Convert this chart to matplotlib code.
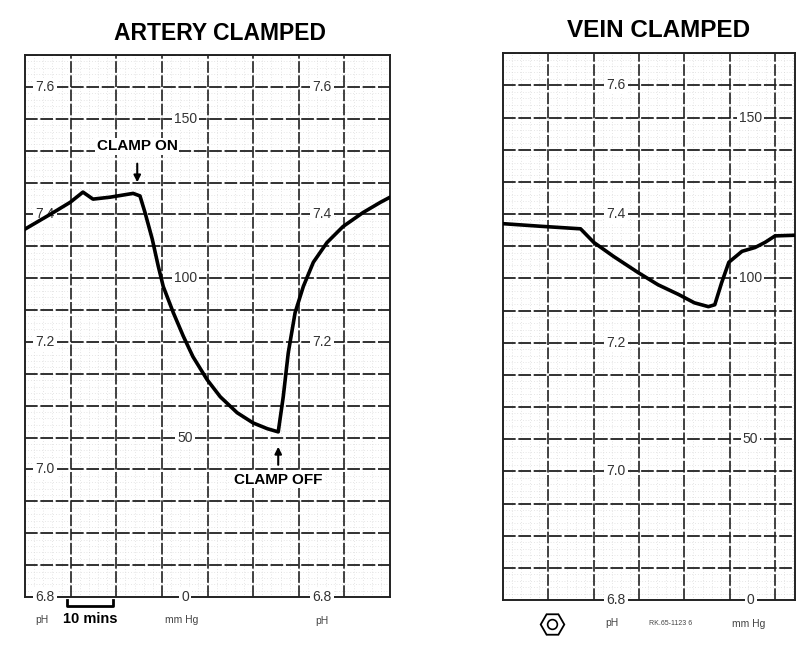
import matplotlib.pyplot as plt
import numpy as np

# artery clamped trace (minutes, pH)
time_artery = [0, 5.5, 9.9, 12.7, 14.9, 18.6, 23.7, 25.2, 26.3, 27.9, 29.2,
               30.3, 32.5, 34.7, 36.8, 39.9, 42.8, 46.5, 50.0, 53.1, 55.5,
               56.6, 57.7, 59.2, 61.0, 63.2, 66.2, 69.7, 74.1, 77.9, 80.0]
ph_artery = [7.377, 7.400, 7.419, 7.435, 7.424, 7.427, 7.433, 7.429, 7.403,
             7.361, 7.319, 7.287, 7.246, 7.209, 7.177, 7.141, 7.114, 7.089,
             7.073, 7.064, 7.059, 7.114, 7.183, 7.246, 7.287, 7.325, 7.356,
             7.381, 7.403, 7.419, 7.427]

# vein clamped trace
time_vein = [0, 8.2, 17.1, 20.0, 24.4, 29.8, 34.2, 38.7, 42.2, 45.3, 46.7,
             48.2, 49.8, 52.7, 55.6, 57.8, 60.0, 64.4]
ph_vein = [7.385, 7.381, 7.377, 7.356, 7.334, 7.309, 7.290, 7.275, 7.262,
           7.256, 7.259, 7.293, 7.325, 7.342, 7.348, 7.356, 7.366, 7.367]

ph_ticks = [7.6, 7.4, 7.2, 7.0, 6.8]
ph_labels = ['7.6', '7.4', '7.2', '7.0', '6.8']
mmhg_ticks = [150, 100, 50, 0]
mmhg_labels = ['150', '100', '50', '0']


def mmhg_to_ph(m):
    return 6.8 + m * 0.005


fig = plt.figure(figsize=(8.12, 6.51), dpi=100)
ax1 = fig.add_axes([0.0308, 0.0829, 0.4495, 0.8326])
ax2 = fig.add_axes([0.6195, 0.0783, 0.3596, 0.8400])

label_kw = dict(fontsize=10, family='Liberation Sans', color='#333',
                ha='center', va='center',
                bbox=dict(boxstyle='square,pad=0.15', fc='white', ec='none'))
small_kw = dict(fontsize=7.5, family='Liberation Sans', color='#444',
                ha='center', va='center')


def paper(ax, xmax):
    ax.set_xlim(0, xmax)
    ax.set_ylim(6.8, 7.65)
    for y in np.arange(6.85, 7.65, 0.05):
        ax.axhline(y, color='#222', lw=1.3, ls=(0, (7, 1.5)), zorder=1)
    for y in np.arange(6.81, 7.65, 0.01):
        ax.axhline(y, color='#cfcfcf', lw=0.5, ls=(0, (1, 3)), zorder=0)
    for x in np.arange(10, xmax, 10):
        ax.axvline(x, color='#222', lw=1.2, ls=(0, (7, 1.5)), zorder=1)
    for x in np.arange(2, xmax, 2):
        ax.axvline(x, color='#cfcfcf', lw=0.5, ls=(0, (1, 3)), zorder=0)
    ax.set_xticks([])
    ax.set_yticks([])
    for s in ax.spines.values():
        s.set_color('#222')
        s.set_linewidth(1.4)


paper(ax1, 80)
paper(ax2, 64.4)

# artery panel
ax1.plot(time_artery, ph_artery, color='black', lw=2.6, zorder=5,
         solid_joinstyle='round')
for v, t in zip(ph_ticks, ph_labels):
    ax1.text(4.4, v, t, zorder=3, **label_kw)
    if t != '7.0':  # right-hand 7.0 is hidden by the CLAMP OFF note
        ax1.text(65.1, v, t, zorder=3, **label_kw)
for m, t in zip(mmhg_ticks, mmhg_labels):
    ax1.text(35.1, mmhg_to_ph(m), t, zorder=3, **label_kw)

ax1.text(42.8, 7.683, 'ARTERY CLAMPED', fontsize=16.5, fontweight='bold',
         family='Liberation Sans', ha='center', va='center', clip_on=False)
ax1.text(24.6, 7.507, 'CLAMP ON', fontsize=11, fontweight='bold',
         family='Liberation Sans', ha='center', va='center', zorder=6,
         bbox=dict(boxstyle='square,pad=0.1', fc='white', ec='none'))
ax1.annotate('', xy=(24.6, 7.446), xytext=(24.6, 7.484),
             arrowprops=dict(arrowstyle='-|>', color='black', lw=1.5,
                             mutation_scale=10), zorder=6)
ax1.text(55.5, 6.984, 'CLAMP OFF', fontsize=11, fontweight='bold',
         family='Liberation Sans', ha='center', va='center', zorder=6,
         bbox=dict(boxstyle='square,pad=0.1', fc='white', ec='none'))
ax1.annotate('', xy=(55.5, 7.040), xytext=(55.5, 7.003),
             arrowprops=dict(arrowstyle='-|>', color='black', lw=1.5,
                             mutation_scale=10), zorder=6)

ax1.text(3.7, 6.764, 'pH', clip_on=False, **small_kw)
ax1.text(34.4, 6.764, 'mm Hg', clip_on=False, **small_kw)
ax1.text(65.1, 6.763, 'pH', clip_on=False, **small_kw)
ax1.plot([9.3, 9.3, 19.3, 19.3], [6.795, 6.786, 6.786, 6.795], color='black',
         lw=2, clip_on=False, zorder=6)
ax1.text(14.3, 6.766, '10 mins', fontsize=10.5, fontweight='bold',
         family='Liberation Sans', ha='center', va='center', clip_on=False)

# vein panel
ax2.plot(time_vein, ph_vein, color='black', lw=2.6, zorder=5,
         solid_joinstyle='round')
for v, t in zip(ph_ticks, ph_labels):
    ax2.text(24.9, v, t, zorder=3, **label_kw)
for m, t in zip(mmhg_ticks, mmhg_labels):
    ax2.text(54.6, mmhg_to_ph(m), t, zorder=3, **label_kw)

ax2.text(34.2, 7.686, 'VEIN CLAMPED', fontsize=17.5, fontweight='bold',
         family='Liberation Sans', ha='center', va='center', clip_on=False)
ax2.plot([10.9], [6.763], marker='H', ms=17, mfc='white', mec='black',
         mew=1.3, clip_on=False)
ax2.plot([10.9], [6.763], marker='o', ms=7, mfc='white', mec='black',
         mew=1.2, clip_on=False)
ax2.text(24.0, 6.764, 'pH', clip_on=False, **small_kw)
ax2.text(37.0, 6.763, 'RK.65-1123 6', fontsize=5, family='Liberation Sans',
         color='#444', ha='center', va='center', clip_on=False)
ax2.text(54.2, 6.763, 'mm Hg', clip_on=False, **small_kw)

fig.savefig('out.png', dpi=100)
